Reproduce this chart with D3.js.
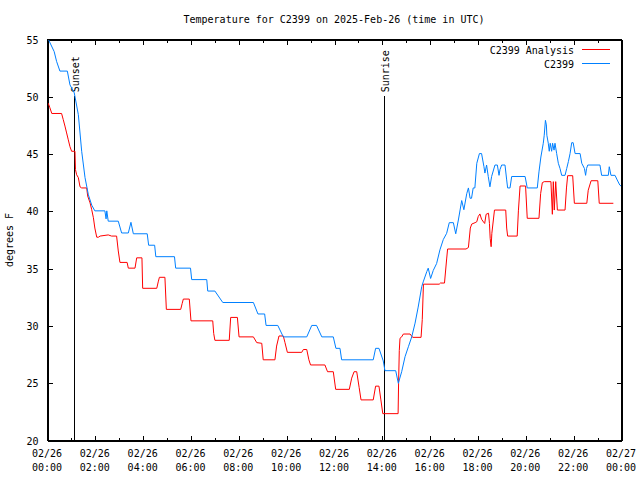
<!DOCTYPE html>
<html><head><meta charset="utf-8">
<script src="https://cdn.jsdelivr.net/npm/d3@7"></script>
<style>
html,body{margin:0;padding:0;background:#fff;}
text{font-family:"DejaVu Sans Mono","Liberation Mono",monospace;font-size:10px;fill:#000;}
</style></head>
<body>
<svg id="chart" width="640" height="480"></svg>
<script>
// ---- data (hours since 2025-02-26 00:00 UTC, degrees F) ----
const chartTitle = "Temperature for C2399 on 2025-Feb-26 (time in UTC)";
const seriesNames = ["C2399 Analysis", "C2399"];
const seriesColors = ["#ff0000", "#0080ff"];
const yTickValues = [20, 25, 30, 35, 40, 45, 50, 55];
const xTickHours = [0, 2, 4, 6, 8, 10, 12, 14, 16, 18, 20, 22, 24];
const xTickDates = ["02/26","02/26","02/26","02/26","02/26","02/26","02/26","02/26","02/26","02/26","02/26","02/26","02/27"];
const xTickTimes = ["00:00","02:00","04:00","06:00","08:00","10:00","12:00","14:00","16:00","18:00","20:00","22:00","00:00"];
const sunEventNames = ["Sunset", "Sunrise"];
const sunEventHours = [1.13, 14.09];

const analysisTimes = [0.05,0.12,0.2,0.61,0.68,0.75,0.82,0.89,0.96,1.03,1.17,1.19,1.24,1.31,1.38,1.45,1.66,1.7,1.8,1.87,1.94,2.0,2.08,2.15,2.22,2.56,2.7,2.91,2.98,3.05,3.35,3.4,3.68,3.75,3.97,4.0,4.59,4.65,4.7,4.93,4.99,5.59,5.65,5.7,5.95,6.02,6.93,6.97,7.02,7.62,7.68,7.96,8.03,8.63,8.77,8.98,9.04,9.53,9.6,9.7,9.88,9.95,10.05,10.65,10.72,10.86,10.95,11.02,11.62,11.73,11.97,12.07,12.64,12.74,12.84,12.95,13.05,13.13,13.64,13.74,13.88,13.96,14.04,14.68,14.7,14.73,14.76,14.83,14.9,15.18,15.29,15.64,15.69,15.74,16.4,16.45,16.62,16.71,16.75,17.52,17.62,17.7,17.76,17.9,17.97,18.03,18.1,18.17,18.27,18.3,18.36,18.46,18.5,18.53,18.57,18.6,18.71,19.18,19.22,19.26,19.66,19.71,19.78,20.01,20.08,20.57,20.64,20.71,20.79,21.07,21.13,21.17,21.21,21.27,21.34,21.66,21.72,21.77,21.98,22.05,22.57,22.63,22.75,23.03,23.09,23.68];
const analysisValues = [49.4,49.0,48.5,48.5,47.96,47.4,46.8,46.2,45.6,45.2,45.2,43.6,43.15,42.9,42.1,42.0,42.0,41.3,40.7,40.1,39.4,38.5,37.7,37.7,37.8,37.9,37.8,37.8,36.5,35.5,35.5,35.0,35.0,35.9,35.9,33.24,33.24,33.8,34.2,34.2,31.4,31.4,31.9,32.3,32.3,30.4,30.4,29.3,28.7,28.7,30.7,30.7,29.0,29.0,28.5,28.44,27.0,27.0,28.2,29.08,29.08,28.5,27.65,27.65,27.9,27.9,27.0,26.55,26.55,25.96,25.96,24.42,24.42,25.4,25.96,25.96,24.6,23.5,23.5,24.7,24.7,23.5,22.3,22.3,24.9,27.8,28.88,29.0,29.25,29.25,28.96,28.96,30.5,33.6,33.6,33.7,33.7,35.8,36.67,36.67,36.8,38.5,38.85,38.97,39.05,39.5,39.73,39.27,38.97,38.9,39.7,39.79,38.9,37.6,36.87,38.04,40.07,40.07,38.5,37.8,37.8,40.0,42.17,42.17,39.35,39.35,41.5,42.46,42.55,42.55,39.7,42.55,40.07,42.55,40.07,40.07,42.0,43.07,43.07,40.66,40.66,41.8,42.63,42.63,40.66,40.66];

const stationTimes = [0.05,0.3,0.4,0.54,0.85,0.96,1.14,1.31,1.45,1.59,1.73,1.87,2.0,2.42,2.47,2.5,2.56,2.98,3.12,3.4,3.51,3.61,4.19,4.25,4.5,4.55,5.33,5.38,6.0,6.05,6.68,6.72,7.02,7.35,8.63,8.82,9.1,9.16,9.65,9.88,10.86,11.07,11.27,11.49,11.97,12.08,12.25,12.32,13.64,13.74,13.88,14.06,14.13,14.58,14.69,14.83,14.97,15.11,15.25,15.39,15.52,15.67,15.73,15.88,15.94,16.04,16.15,16.29,16.43,16.57,16.71,16.82,16.99,17.09,17.2,17.34,17.43,17.55,17.62,17.69,17.75,17.82,17.89,17.97,18.08,18.17,18.27,18.31,18.38,18.45,18.52,18.59,18.73,18.83,18.9,18.94,19.01,19.15,19.22,19.26,19.36,19.43,19.99,20.08,20.5,20.57,20.65,20.75,20.79,20.84,20.88,20.9,20.96,21.0,21.04,21.1,21.14,21.2,21.24,21.31,21.38,21.45,21.52,21.66,21.73,21.8,21.87,21.94,22.0,22.08,22.29,22.36,22.47,22.52,22.56,22.61,23.12,23.19,23.47,23.51,23.58,23.75,23.84,23.95,24.0];
const stationValues = [55.0,53.9,53.05,52.2,52.2,51.0,50.3,48.4,45.2,42.9,41.4,40.5,40.0,40.0,39.3,40.0,39.1,39.1,38.07,38.07,39.0,38.0,38.0,37.0,37.0,36.0,36.0,35.0,35.0,34.0,34.0,33.0,33.0,32.0,32.0,31.0,31.0,30.0,30.0,29.0,29.0,30.0,30.0,29.0,29.0,28.0,28.0,27.0,27.0,28.0,28.0,26.9,26.05,26.05,24.95,25.96,27.27,28.14,29.0,30.2,31.6,33.4,33.8,34.7,35.0,34.1,34.8,35.4,36.6,37.5,38.04,38.97,38.97,38.0,39.2,40.9,40.1,41.5,42.0,41.1,41.1,42.0,42.0,44.15,45.0,45.0,43.85,43.3,44.0,43.0,42.1,43.0,44.0,44.0,43.1,43.6,44.0,44.0,42.7,42.0,42.0,43.0,43.0,42.0,42.0,43.4,44.7,45.9,46.6,47.9,47.5,46.6,45.9,45.2,45.9,45.2,45.9,45.3,45.9,45.0,44.15,43.7,43.1,43.1,43.7,44.3,45.0,45.95,45.95,45.0,45.0,44.15,43.7,43.1,43.7,44.0,44.0,43.1,43.1,43.85,43.1,43.1,42.7,42.25,42.17];

// ---- layout ----
const svg = d3.select("#chart");
const L = 47, R = 621, T = 39, B = 440;
const x = d3.scaleLinear().domain([0, 24]).range([L, R]);
const y = d3.scaleLinear().domain([20, 55]).range([B, T]);

// title
svg.append("text").attr("x", (L + R) / 2).attr("y", 23).attr("text-anchor", "middle").text(chartTitle);

// y-axis label
svg.append("text").attr("transform", "translate(13,240) rotate(-90)").attr("text-anchor", "middle").text("degrees F");

// axes (ticks inward)
const minorHours = d3.range(1, 24, 2);
const axes = svg.append("g").attr("class", "axes").attr("shape-rendering", "crispEdges");
axes.append("g").attr("transform", `translate(0.5,${B + 0.5})`)
  .call(d3.axisBottom(x).tickValues(xTickHours).tickSize(-5).tickSizeOuter(0).tickFormat(() => ""));
axes.append("g").attr("transform", `translate(0.5,${B + 0.5})`)
  .call(d3.axisBottom(x).tickValues(minorHours).tickSize(-3).tickSizeOuter(0).tickFormat(() => ""))
  .call(g => g.select(".domain").remove());
axes.append("g").attr("transform", `translate(0.5,${T + 0.5})`)
  .call(d3.axisTop(x).tickValues(xTickHours).tickSize(-5).tickSizeOuter(0).tickFormat(() => ""));
axes.append("g").attr("transform", `translate(0.5,${T + 0.5})`)
  .call(d3.axisTop(x).tickValues(minorHours).tickSize(-3).tickSizeOuter(0).tickFormat(() => ""))
  .call(g => g.select(".domain").remove());
const gy = axes.append("g").attr("transform", `translate(${L + 0.5},0.5)`)
  .call(d3.axisLeft(y).tickValues(yTickValues).tickSize(-5).tickSizeOuter(0));
gy.selectAll(".tick text").attr("x", -9).attr("dy", "0.35em")
  .style("font-family", '"DejaVu Sans Mono",monospace').style("font-size", "10px");
axes.append("g").attr("transform", `translate(${R + 0.5},0.5)`)
  .call(d3.axisRight(y).tickValues(yTickValues).tickSize(-5).tickSizeOuter(0).tickFormat(() => ""));
axes.selectAll(".domain").attr("stroke", "#000");
axes.selectAll(".tick line").attr("stroke", "#000");

// x tick labels (two lines)
const xl = svg.append("g");
xTickHours.forEach((h, i) => {
  const t = xl.append("text").attr("text-anchor", "middle");
  t.append("tspan").attr("x", x(h)).attr("y", 457).text(xTickDates[i]);
  t.append("tspan").attr("x", x(h)).attr("y", 471).text(xTickTimes[i]);
});

// sunrise / sunset markers
sunEventHours.forEach((h, i) => {
  const xp = Math.round(x(h)) + 0.5;
  svg.append("line").attr("x1", xp).attr("x2", xp).attr("y1", y(50)).attr("y2", y(20))
    .style("stroke", "#000").attr("shape-rendering", "crispEdges");
  svg.append("text").attr("transform", `translate(${xp + 4},${y(50) - 4}) rotate(-90)`)
    .text(sunEventNames[i]);
});

// series
const lineGen = d3.line().x(d => x(d[0])).y(d => y(d[1]));
const analysis = analysisTimes.map((t, i) => [t, analysisValues[i]]);
const station = stationTimes.map((t, i) => [t, stationValues[i]]);
svg.append("path").datum(analysis).attr("d", lineGen).style("fill", "none")
  .style("stroke", seriesColors[0]).style("stroke-width", 1);
svg.append("path").datum(station).attr("d", lineGen).style("fill", "none")
  .style("stroke", seriesColors[1]).style("stroke-width", 1);

// border
svg.append("rect").attr("x", L + 0.5).attr("y", T + 0.5).attr("width", R - L).attr("height", B - T)
  .style("fill", "none").style("stroke", "#000").attr("shape-rendering", "crispEdges");

// legend
const legend = svg.append("g").attr("class", "legend");
seriesNames.forEach((n, i) => {
  const ly = 49.5 + i * 14;
  legend.append("text").attr("x", 574).attr("y", ly + 4).attr("text-anchor", "end").text(n);
  legend.append("rect").attr("x", 582).attr("y", ly - 0.5).attr("width", 28).attr("height", 1)
    .style("fill", seriesColors[i]).style("stroke", "none");
});
</script>
</body></html>
